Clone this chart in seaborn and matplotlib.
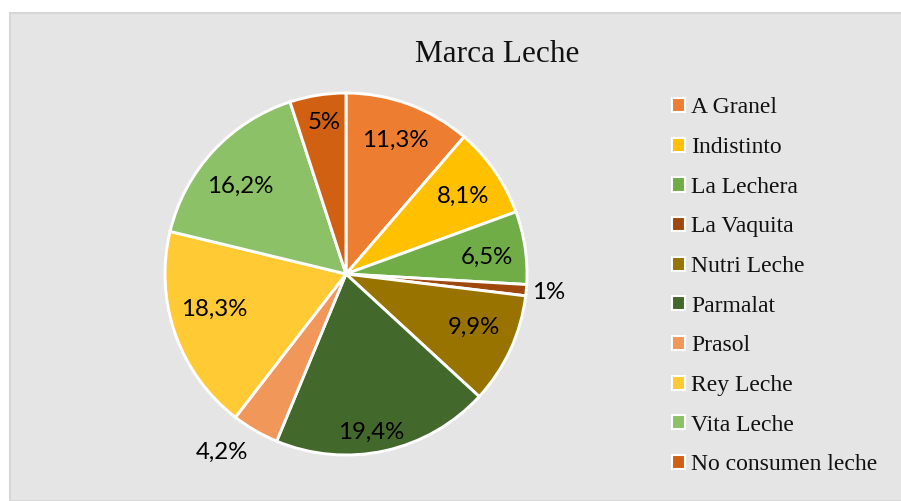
import numpy as np
import matplotlib
matplotlib.use("Agg")
import matplotlib.pyplot as plt
import seaborn as sns
from matplotlib.patches import Patch, Rectangle

# data
brands = ["A Granel", "Indistinto", "La Lechera", "La Vaquita", "Nutri Leche",
          "Parmalat", "Prasol", "Rey Leche", "Vita Leche", "No consumen leche"]
shares = [11.3, 8.1, 6.5, 1.0, 9.9, 19.4, 4.2, 18.3, 16.2, 5.0]
share_labels = ["11,3%", "8,1%", "6,5%", "1%", "9,9%", "19,4%", "4,2%", "18,3%", "16,2%", "5%"]

colors = sns.color_palette(["#ED7D31", "#FFC000", "#70AD47", "#9E480E", "#997300",
                            "#43682B", "#F1975A", "#FFCA33", "#8CC168", "#D26012"])

# label placement: distance (fraction of radius) and angle nudge (deg) per slice
label_dist = [0.79, 0.775, 0.785, 1.125, 0.765, 0.885, 1.2, 0.756, 0.757, 0.844]
label_nudge = [0, -1.3, -1.6, 0, 2.2, -3.3, -4.8, -4.3, 3.1, -0.7]

sns.set_style("white")
plt.rcParams["font.family"] = ["Liberation Serif", "DejaVu Serif"]

W, H = 901, 501
fig = plt.figure(figsize=(W / 100, H / 100), dpi=100)
fig.patch.set_facecolor("white")

# chart area box
fig.patches.append(Rectangle((10 / W, 0), 1, (H - 13) / H, transform=fig.transFigure,
                             facecolor="#E5E5E5", edgecolor="#D6D6D6", linewidth=1.5,
                             zorder=-5))

cx, cy, R = 346, 274, 181
ax = fig.add_axes([(cx - R) / W, (H - cy - R) / H, 2 * R / W, 2 * R / H])
ax.set_facecolor("none")
ax.set_zorder(2)

wedges, _ = ax.pie(shares, colors=colors, startangle=90, counterclock=False,
                   radius=1.0, wedgeprops=dict(edgecolor="white", linewidth=2.1))
ax.set_xlim(-1, 1)
ax.set_ylim(-1, 1)
ax.axis("off")

for w, lab, d, nudge in zip(wedges, share_labels, label_dist, label_nudge):
    ang = np.deg2rad((w.theta1 + w.theta2) / 2 + nudge)
    ax.text(d * np.cos(ang), d * np.sin(ang), lab, ha="center", va="center",
            fontsize=17.3, family=["Lato", "DejaVu Sans"], color="black")

fig.text(497 / W, 1 - 54 / H, "Marca Leche", ha="center", va="center",
         fontsize=22.5, color="#111111")

handles = [Patch(facecolor=c, edgecolor="white", linewidth=1.5) for c in colors]
fig.legend(handles, brands, loc="upper left", bbox_to_anchor=(663 / W, 1 - 88 / H),
           frameon=False, fontsize=17, handlelength=0.55, handleheight=0.55,
           handletextpad=0.25, labelspacing=0.79, borderaxespad=0,
           labelcolor="#111111")

fig.savefig("out.png", dpi=100)
